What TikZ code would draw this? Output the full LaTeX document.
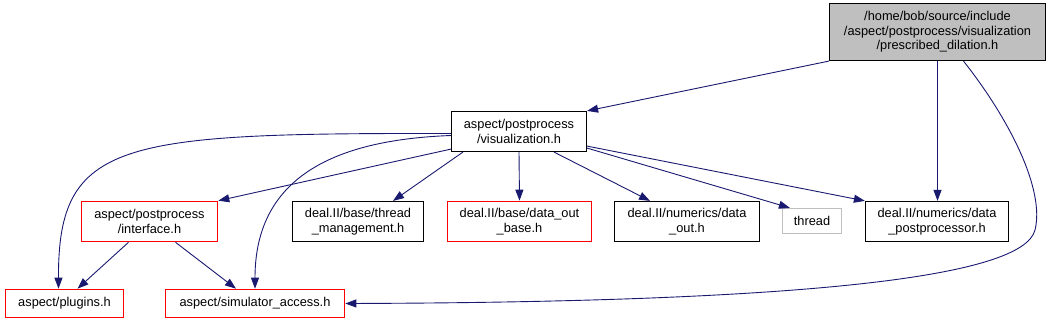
\documentclass[tikz,border=0pt]{standalone}
\usepackage{fontspec}
\setmainfont{Liberation Sans}
\usetikzlibrary{arrows.meta,calc}
\definecolor{edgeblue}{HTML}{191970}
\definecolor{boxgray}{HTML}{BFBFBF}
\definecolor{boxred}{HTML}{FF0000}

\begin{document}
\begin{tikzpicture}[x=1pt, y=-1pt,
      file/.style={draw=black, rectangle, line width=1.2pt, inner sep=2pt, align=center, font=\fontsize{12.8}{14.5}\selectfont, minimum height=40pt},
      redfile/.style={file, draw=boxred, line width=1.6pt},
      sysfile/.style={file, draw=boxgray, minimum height=25pt},
      arr/.style={-{Triangle[length=11pt,width=8pt]}, edgeblue, line width=0.9pt}
    ]
    \useasboundingbox (0,0) rectangle (1051,323);
    \node[file, fill=boxgray, minimum width=216pt, minimum height=57pt] (top) at (937.5,32) {/home/bob/source/include\\/aspect/postprocess/visualization\\/prescribed\_dilation.h};
    \node[file, minimum width=135pt] (vis) at (519,131.5) {aspect/postprocess\\/visualization.h};
    \node[redfile, minimum width=136pt] (iface) at (149.5,221.5) {aspect/postprocess\\/interface.h};
    \node[file, minimum width=131pt] (tmgmt) at (358,221.5) {deal.II/base/thread\\\_management.h};
    \node[redfile, minimum width=144pt] (dob) at (519.5,221.5) {deal.II/base/data\_out\\\_base.h};
    \node[file, minimum width=145pt] (dout) at (687,221.5) {deal.II/numerics/data\\\_out.h};
    \node[sysfile, minimum width=59pt] (thr) at (812,221) {thread};
    \node[file, minimum width=143pt] (dpp) at (937,221.5) {deal.II/numerics/data\\\_postprocessor.h};
    \node[redfile, minimum width=118pt, minimum height=28pt] (plug) at (64.5,303.5) {aspect/plugins.h};
    \node[redfile, minimum width=179pt, minimum height=28pt] (sim) at (255,303.5) {aspect/simulator\_access.h};

    \draw[arr] (top.south west) -- (vis.north east);
    \draw[arr] (top.south) -- (top.south |- dpp.north);
    \draw[arr] ($(top.south)+(26,0)$) .. controls (1010,120) and (1045,190) .. (1035,230)
      .. controls (1023,278) and (800,302) .. (sim.east);

    \draw[arr] ($(vis.west)+(0,2)$) .. controls (120,133) and (58,140) .. ($(plug.north)+(-6,0)$);
    \draw[arr] ($(vis.west)+(0,4)$) .. controls (330,140) and (255,180) .. (sim.north);
    \draw[arr] ($(vis.south west)+(0,-3)$) -- (iface.north east);
    \draw[arr] ($(vis.south west)+(12,0)$) -- ($(tmgmt.north)+(35,0)$);
    \draw[arr] (vis.south) -- (dob.north);
    \draw[arr] ($(vis.south)+(35,0)$) -- ($(dout.north)+(-37,0)$);
    \draw[arr] ($(vis.south east)+(0,-4)$) -- ($(thr.north west)+(8,0)$);
    \draw[arr] ($(vis.south east)+(0,-6)$) -- (dpp.north west);

    \draw[arr] ($(iface.south)+(-21,0)$) -- ($(plug.north)+(13,0)$);
    \draw[arr] ($(iface.south)+(26,0)$) -- ($(sim.north)+(-19,0)$);
  \end{tikzpicture}
\end{document}
